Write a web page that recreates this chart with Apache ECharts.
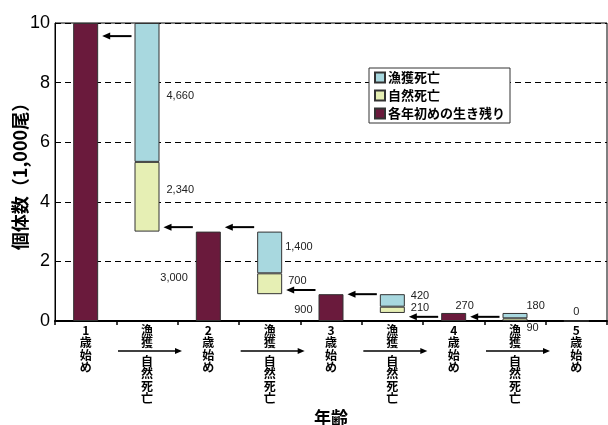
<!DOCTYPE html>
<html><head><meta charset="utf-8">
<script src="https://cdn.jsdelivr.net/npm/echarts@6/dist/echarts.min.js"></script>
<style>html,body{margin:0;padding:0;background:#fff}#c{width:608px;height:425px}</style>
</head><body><div id="c"></div>
<script>
// categories (x axis)
const categories = ['1歳始め','漁獲・自然死亡','2歳始め','漁獲・自然死亡','3歳始め','漁獲・自然死亡','4歳始め','漁獲・自然死亡','5歳始め'];
// values in 1,000 fish
const baseVals     = ['-', 3.0, '-', 0.9, '-', 0.27, '-', '-', '-'];
const survivorVals = [10, '-', 3.0, '-', 0.9, '-', 0.27, '-', 0];
const naturalVals  = ['-', 2.34, '-', 0.7, '-', 0.21, '-', 0.09, '-'];
const fishingVals  = ['-', 4.66, '-', 1.4, '-', 0.42, '-', 0.18, '-'];
// y levels of the flow arrows between consecutive columns (value space)
const arrowLevels  = [9.56, 3.15, 3.15, 1.04, 0.9, 0.14, 0.14];
const yTicks = [0, 2, 4, 6, 8, 10];

const C_SURV = '#6a1a3c', C_NAT = '#e6efb4', C_FISH = '#a8d8df';
const FONT = 'Arial, "Liberation Sans", "Noto Sans CJK JP", sans-serif';
const JFONT = '"Noto Sans CJK JP", sans-serif';
const BARW = 25;

const fmt = v => Math.round(v * 1000).toLocaleString('en-US');
function lab(pos, offset, extra) {
  return Object.assign({show: true, position: pos, offset: offset || [0, 0], distance: 5,
    fontSize: 11, color: '#222', fontFamily: FONT, formatter: p => fmt(p.value)}, extra || {});
}
function withLabels(vals, labels) {
  return vals.map((v, i) => labels[i] ? {value: v, label: labels[i]} : v);
}

const survData = withLabels(survivorVals, {
  2: lab('left', [-3, 2]),
  4: lab('left', [-1, 2]),
  6: lab('top', [11, 0], {distance: 1}),
  8: lab('top', [0, 0], {distance: 3})
});
const natData = withLabels(naturalVals, {
  1: lab('right', [2, -7]),
  3: lab('right', [1, -3]),
  5: lab('right', [1, -2]),
  7: lab('right', [-6, 8])
});
const fishData = withLabels(fishingVals, {
  1: lab('right', [2, 4]),
  3: lab('right', [-2, -5]),
  5: lab('right', [1, -4]),
  7: lab('right', [-6, -10])
});

const chart = echarts.init(document.getElementById('c'));
const border = {borderColor: '#333', borderWidth: 1};
chart.setOption({
  animation: false,
  backgroundColor: '#fff',
  grid: {left: 55, right: 1, top: 23, bottom: 104, containLabel: false, outerBoundsMode: 'none',
    show: true, borderColor: '#000', borderWidth: 1, backgroundColor: 'transparent'},
  legend: {
    data: ['漁獲死亡', '自然死亡', '各年初めの生き残り'],
    orient: 'vertical', left: 369, top: 68, itemWidth: 10, itemHeight: 10, itemGap: 5,
    padding: [3, 5], borderColor: '#333', borderWidth: 1, backgroundColor: '#fff',
    icon: 'rect', textStyle: {fontSize: 13, fontWeight: 'bold', color: '#000', fontFamily: JFONT, padding: [0, 0, 0, -2]}
  },
  xAxis: {
    type: 'category', data: categories,
    name: '年齢', nameLocation: 'middle', nameGap: 88, nameMoveOverlap: false,
    nameTextStyle: {fontSize: 17, fontWeight: 'bold', color: '#000', fontFamily: JFONT},
    axisLine: {lineStyle: {color: '#000', width: 2}},
    axisTick: {show: true, length: 4, lineStyle: {color: '#000', width: 1.5}},
    axisLabel: {
      interval: 0, margin: 3, color: '#000',
      formatter: v => {
        const col = s => s.split('').map(c => '{t|' + c + '}').join('\n');
        if (v.indexOf('・') >= 0) { const [a, b] = v.split('・'); return col(a) + '\n{g| }\n' + col(b); }
        return col(v);
      },
      rich: {
        t: {fontSize: 12, lineHeight: 12.5, fontWeight: 'bold', color: '#000', fontFamily: JFONT, align: 'center'},
        g: {fontSize: 2, lineHeight: 6}
      }
    }
  },
  yAxis: {
    type: 'value', min: yTicks[0], max: yTicks[yTicks.length - 1], interval: 2,
    name: '個体数（1,000尾）', nameLocation: 'middle', nameGap: 26, nameMoveOverlap: false,
    nameTextStyle: {fontSize: 18, fontWeight: 'bold', color: '#000', fontFamily: JFONT},
    axisLine: {show: true, lineStyle: {color: '#000', width: 1}},
    axisTick: {show: true, inside: true, length: 4, lineStyle: {color: '#000'}},
    axisLabel: {fontSize: 18, color: '#000', fontFamily: FONT, margin: 5},
    splitLine: {lineStyle: {color: '#000', type: [6, 4], width: 1}}
  },
  series: [
    {name: 'base', type: 'bar', stack: 's', barWidth: BARW, data: baseVals, silent: true,
      itemStyle: {color: 'rgba(0,0,0,0)', borderWidth: 0}},
    {name: '各年初めの生き残り', type: 'bar', stack: 's', barWidth: BARW, data: survData,
      itemStyle: Object.assign({color: C_SURV}, border)},
    {name: '自然死亡', type: 'bar', stack: 's', barWidth: BARW, data: natData,
      itemStyle: Object.assign({color: C_NAT}, border)},
    {name: '漁獲死亡', type: 'bar', stack: 's', barWidth: BARW, data: fishData,
      itemStyle: Object.assign({color: C_FISH}, border)}
  ]
});

function arrow(x1, x2, y, w, hl, hw) {
  const d = Math.sign(x2 - x1);
  return {type: 'group', silent: true, children: [
    {type: 'line', shape: {x1: x1, y1: y, x2: x2 - d * hl * 0.8, y2: y}, style: {stroke: '#000', lineWidth: w}},
    {type: 'polygon', shape: {points: [[x2, y], [x2 - d * hl, y - hw], [x2 - d * hl, y + hw]]}, style: {fill: '#000'}}
  ]};
}
const px = (i, v) => chart.convertToPixel({gridIndex: 0}, [i, v]);
const els = [];
arrowLevels.forEach((v, i) => {
  const a = px(i, v), b = px(i + 1, v);
  els.push(arrow(b[0] - BARW / 2 - 3, a[0] + BARW / 2 + 4, a[1], 2, 8, 3.5));
});
categories.forEach((c, i) => {
  if (c.indexOf('・') >= 0) {
    const p = px(i, 0);
    els.push(arrow(p[0] - 29, p[0] + 35, p[1] + 30, 1.3, 7, 3));
  }
});
chart.setOption({graphic: {elements: els}});
</script></body></html>
